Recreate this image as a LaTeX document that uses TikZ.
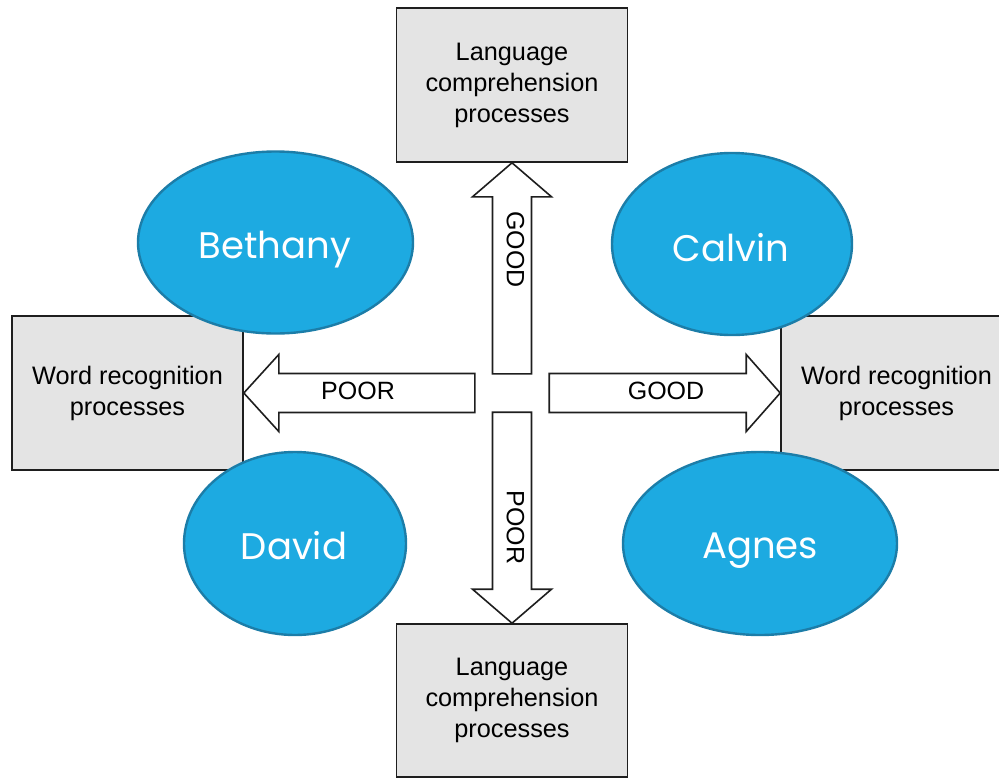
\documentclass[tikz,border=0pt]{standalone}
\usepackage{fontspec}
\setmainfont{Liberation Sans}
\newfontfamily\namefont{Poppins}
\usetikzlibrary{shapes.geometric}
\definecolor{boxfill}{HTML}{E4E4E4}
\definecolor{boxline}{HTML}{1E1E1E}
\definecolor{ellfill}{HTML}{1DAAE1}
\definecolor{ellline}{HTML}{1C7DA8}
\begin{document}
\begin{tikzpicture}[x=1pt,y=-1pt,
  procbox/.style={draw=boxline, fill=boxfill, line width=1.6pt, minimum width=231pt, minimum height=154pt, inner sep=0pt, align=center, font=\fontsize{25.3}{31}\selectfont},
  person/.style={ellipse, draw=ellline, fill=ellfill, line width=2.4pt, inner sep=0pt},
  pname/.style={text=white, font=\namefont\fontsize{37}{44}\selectfont, anchor=base, inner sep=0pt},
  blockarrow/.style={draw=boxline, fill=white, line width=1.6pt, line join=miter},
  albl/.style={font=\fontsize{25}{30}\selectfont, inner sep=0pt}]
\useasboundingbox (0,0) rectangle (999,777);
\clip (0,0) rectangle (999,777);
% process boxes
\node[procbox] (lt) at (512,85) {Language\\comprehension\\processes};
\node[procbox, minimum height=153pt] (lb) at (512,700.5) {Language\\comprehension\\processes};
\node[procbox] (wl) at (127.5,393) {Word recognition\\processes};
\node[procbox] (wr) at (896.5,393) {Word recognition\\processes};
% block arrows
\draw[blockarrow] (lt.south) -- ++(39.5,34) -- ++(-20,0) -- ++(0,177) -- ++(-39,0) -- ++(0,-177) -- ++(-20,0) -- cycle;
\draw[blockarrow] (wl.east) -- ++(35,-38.5) -- ++(0,19) -- ++(196,0) -- ++(0,39) -- ++(-196,0) -- ++(0,19) -- cycle;
\draw[blockarrow] (wr.west) -- ++(-34,-38.5) -- ++(0,19) -- ++(-197,0) -- ++(0,39) -- ++(197,0) -- ++(0,19) -- cycle;
\draw[blockarrow] (lb.north) -- ++(39.5,-34) -- ++(-20,0) -- ++(0,-177) -- ++(-39,0) -- ++(0,177) -- ++(-20,0) -- cycle;
% arrow labels
\node[albl, rotate=-90] (goodup) at (515.5,249.5) {GOOD};
\node[albl] (poorleft) at (358,390.5) {POOR};
\node[albl] (goodright) at (666,390.5) {GOOD};
\node[albl, rotate=-90] (poordown) at (515.5,527.5) {POOR};
% people
\node[person, minimum width=275pt, minimum height=182pt] (bethany) at (275.5,242.5) {};
\node[person, minimum width=240pt, minimum height=182pt] (calvin) at (732,244) {};
\node[person, minimum width=222pt, minimum height=183pt] (david) at (295,543.5) {};
\node[person, minimum width=274pt, minimum height=183pt] (agnes) at (760,543.5) {};
\node[pname] (bethanyT) at (275,258) {Bethany};
\node[pname] (calvinT) at (731,261) {Calvin};
\node[pname] (davidT) at (294,559) {David};
\node[pname] (agnesT) at (760,558) {Agnes};
\end{tikzpicture}
\end{document}
